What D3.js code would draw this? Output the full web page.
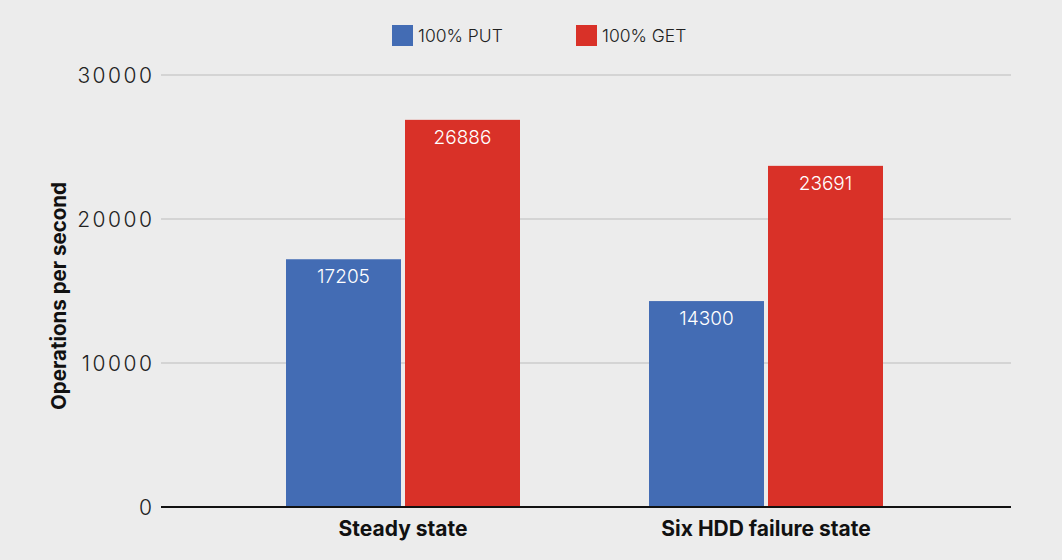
<!DOCTYPE html>
<html><head><meta charset="utf-8">
<script src="https://cdn.jsdelivr.net/npm/d3@7"></script>
<style>
html,body{margin:0;padding:0;background:#ececec;}
svg{display:block;}
</style></head><body>
<svg id="chart" width="1062" height="560"></svg>
<script>
const categories = ["Steady state", "Six HDD failure state"];
const seriesNames = ["100% PUT", "100% GET"];
const putValues = [17205, 14300];
const getValues = [26886, 23691];
const yTicks = [0, 10000, 20000, 30000];
const colors = ["#436cb4", "#d93128"];

const svg = d3.select("#chart");
const W = 1062, H = 560;
svg.append("rect").attr("width", W).attr("height", H).attr("fill", "#ececec");

const fontLight = "Inter, 'Open Sans', sans-serif";
const y = d3.scaleLinear().domain([0, 30000]).range([507, 75]);
const gridX0 = 161, gridX1 = 1011;
const x0 = d3.scaleBand().domain(categories).range([221.5, 947.5]).padding(0);
const groupW = 234;
const x1 = d3.scaleBand().domain(seriesNames)
  .range([(x0.bandwidth() - groupW) / 2, (x0.bandwidth() + groupW) / 2])
  .paddingInner(4 / 119).paddingOuter(0);

// grid
const grid = svg.append("g");
grid.selectAll("line").data(yTicks.filter(d => d > 0)).join("line")
  .attr("x1", gridX0).attr("x2", gridX1)
  .attr("y1", d => y(d)).attr("y2", d => y(d))
  .attr("stroke", "#d4d4d4").attr("stroke-width", 2);

// y axis labels
const yAxis = d3.axisLeft(y).tickValues(yTicks).tickSize(0).tickPadding(0).tickFormat(d3.format("d"));
const ya = svg.append("g").attr("transform", `translate(154.5,0)`).call(yAxis);
ya.select(".domain").remove();
ya.selectAll("text").attr("font-family", fontLight).attr("font-weight", 300)
  .attr("font-size", 21).attr("letter-spacing", 2.5).attr("fill", "#222").attr("dy", "0.36em");

// bars
const data = categories.map((c, i) => ({cat: c, vals: [putValues[i], getValues[i]]}));
const groups = svg.append("g").selectAll("g").data(data).join("g")
  .attr("transform", d => `translate(${x0(d.cat)},0)`);
groups.selectAll("rect").data(d => d.vals.map((v, j) => ({s: seriesNames[j], v, j}))).join("rect")
  .attr("x", d => x1(d.s)).attr("width", x1.bandwidth())
  .attr("y", d => y(d.v)).attr("height", d => y(0) - y(d.v))
  .attr("fill", d => colors[d.j]);
groups.selectAll("text").data(d => d.vals.map((v, j) => ({s: seriesNames[j], v, j}))).join("text")
  .attr("x", d => x1(d.s) + x1.bandwidth() / 2).attr("y", d => y(d.v) + 24)
  .attr("text-anchor", "middle").attr("font-family", fontLight).attr("font-weight", 300)
  .attr("font-size", 19).attr("fill", "#fff").text(d => d.v);

// baseline
svg.append("line").attr("x1", gridX0).attr("x2", gridX1).attr("y1", y(0)).attr("y2", y(0))
  .attr("stroke", "#111").attr("stroke-width", 2);

// x axis labels
const xAxis = d3.axisBottom(x0).tickSize(0).tickPadding(0);
const xa = svg.append("g").attr("transform", `translate(0,${y(0)})`).call(xAxis);
xa.select(".domain").remove();
xa.selectAll("text").attr("font-family", fontLight).attr("font-weight", 700)
  .attr("font-size", 21).attr("fill", "#111").attr("dy", null).attr("y", 29);

// y title
svg.append("text").attr("transform", `translate(66,296) rotate(-90)`)
  .attr("text-anchor", "middle").attr("font-family", fontLight).attr("font-weight", 700)
  .attr("font-size", 20.5).attr("fill", "#111").text("Operations per second");

// legend
const legendX = [392, 576];
const lg = svg.append("g").selectAll("g").data(seriesNames).join("g")
  .attr("transform", (d, i) => `translate(${legendX[i]},25)`);
lg.append("rect").attr("width", 21).attr("height", 21).attr("fill", (d, i) => colors[i]);
lg.append("text").attr("x", 26).attr("y", 17).attr("font-family", fontLight).attr("font-weight", 300)
  .attr("font-size", 17.5).attr("fill", "#222").text(d => d);
</script>
</body></html>
